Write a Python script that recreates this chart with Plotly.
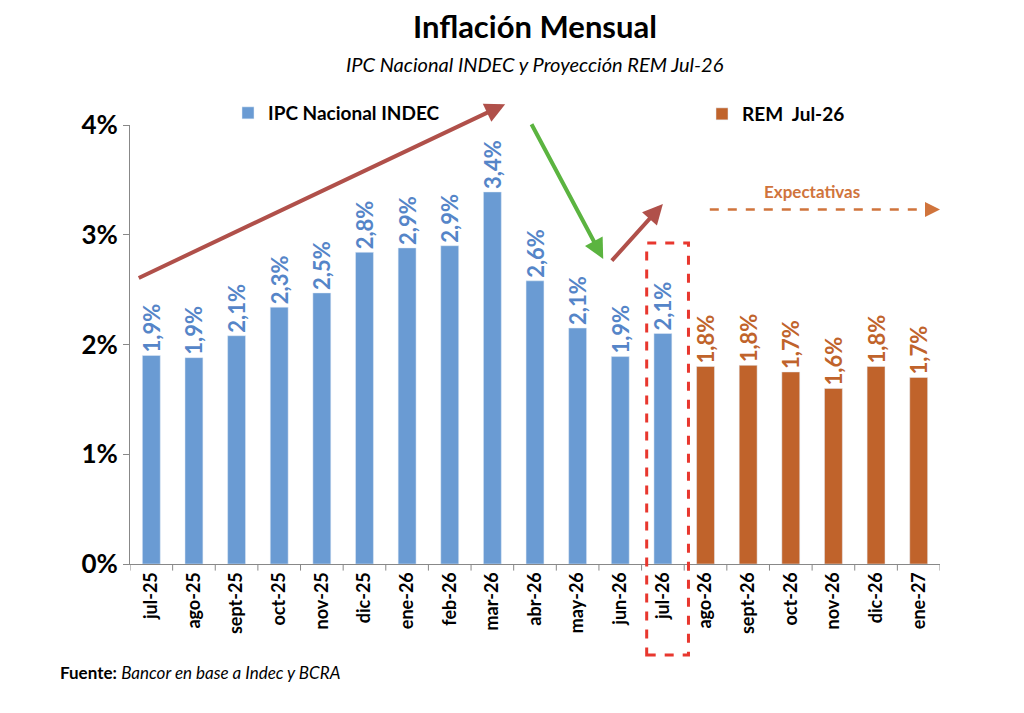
import plotly.graph_objects as go

categories = ["jul-25","ago-25","sept-25","oct-25","nov-25","dic-25","ene-26","feb-26","mar-26",
              "abr-26","may-26","jun-26","jul-26","ago-26","sept-26","oct-26","nov-26","dic-26","ene-27"]
ipc = [1.9,1.88,2.08,2.34,2.47,2.84,2.88,2.9,3.39,2.58,2.15,1.89,2.1] + [None]*6
rem = [None]*13 + [1.8,1.81,1.75,1.6,1.8,1.7]
ipc_labels = ["1,9%","1,9%","2,1%","2,3%","2,5%","2,8%","2,9%","2,9%","3,4%","2,6%","2,1%","1,9%","2,1%"] + [""]*6
rem_labels = [""]*13 + ["1,8%","1,8%","1,7%","1,6%","1,8%","1,7%"]

BLUE = "#6A9BD3"; BLUE_T = "#5585C8"; ORANGE = "#C0632B"
FONT = "Lato"
idx = list(range(len(categories)))

L, T, R, B = 122, 117, 92, 157
H = 713 - T - B
def py(px):
    return (713 - B - (px - 8)) / H
def pxx(px):
    return ((px - 8) - L) / (1024 - L - R)

fig = go.Figure()
fig.add_bar(x=idx, y=ipc, name="IPC Nacional INDEC", marker_color=BLUE, width=0.42,
            text=ipc_labels, textposition="outside", textangle=-90, cliponaxis=False, constraintext="none",
            textfont=dict(color=BLUE_T, size=22, family=FONT, weight="bold"), legend="legend")
fig.add_bar(x=idx, y=rem, name="REM  Jul-26", marker_color=ORANGE, width=0.42,
            text=rem_labels, textposition="outside", textangle=-90, cliponaxis=False, constraintext="none",
            textfont=dict(color=ORANGE, size=22, family=FONT, weight="bold"), legend="legend2")

def arrow(x0, y0, x1, y1, color, width=4):
    fig.add_annotation(x=x1, y=y1, ax=x0, ay=y0, xref="x", yref="y", axref="x", ayref="y",
                       text="", showarrow=True, arrowhead=2, arrowsize=1.0,
                       arrowwidth=width, arrowcolor=color)

arrow(-0.33, 2.6, 8.3, 4.19, "#B0504A")
arrow(8.9, 4.02, 10.6, 2.78, "#5BB440")
arrow(10.77, 2.75, 12.0, 3.28, "#B0504A")
fig.add_shape(type="line", xref="x", yref="y", x0=13.1, x1=18.3, y0=3.23, y1=3.23,
              line=dict(color="#D0743C", width=2.5, dash="dash"))
fig.add_annotation(x=18.5, y=3.23, ax=18.2, ay=3.23, xref="x", yref="y", axref="x", ayref="y",
                   text="", showarrow=True, arrowhead=2, arrowsize=1.2, arrowwidth=2.5, arrowcolor="#D0743C")
fig.add_annotation(x=15.5, y=3.39, xref="x", yref="y", text="<b>Expectativas</b>", showarrow=False,
                   font=dict(color="#D0743C", size=17, family=FONT))

fig.add_shape(type="rect", xref="x", yref="paper", x0=11.62, x1=12.6, y0=py(655), y1=py(243),
              line=dict(color="#E8372E", width=3, dash="dash"))

fig.add_annotation(x=0.5, y=py(26), xref="paper", yref="paper", xanchor="center", yanchor="middle",
                   text="<b>Inflación Mensual</b>", showarrow=False,
                   font=dict(size=31, family=FONT, color="black"))
fig.add_annotation(x=0.5, y=py(64), xref="paper", yref="paper", xanchor="center", yanchor="middle",
                   text="<i>IPC Nacional INDEC y Proyección REM Jul-26</i>", showarrow=False,
                   font=dict(size=20, family=FONT, color="black"))
fig.add_annotation(x=pxx(58), y=py(672), xref="paper", yref="paper", xanchor="left", yanchor="middle",
                   text="<b>Fuente:</b> <i>Bancor en base a Indec y BCRA</i>", showarrow=False,
                   font=dict(size=17, family=FONT, color="black"))

fig.update_layout(
    width=1024, height=713, paper_bgcolor="white", plot_bgcolor="white",
    margin=dict(l=L, r=R, t=T, b=B, autoexpand=False),
    barmode="overlay",
    xaxis=dict(tickmode="array", tickvals=idx, ticktext=categories, tickangle=-90,
               range=[-0.5, len(categories)-0.5], showline=True, linecolor="#888", ticks="",
               tickfont=dict(size=18, family=FONT, color="black", weight="bold"), showgrid=False),
    yaxis=dict(range=[0, 4], tickvals=[0,1,2,3,4], ticktext=["0%","1%","2%","3%","4%"],
               showline=True, linecolor="#888", ticks="outside", ticklen=6, tickcolor="#888",
               showgrid=False, zeroline=False,
               tickfont=dict(size=26, family=FONT, color="black", weight="bold")),
    legend=dict(x=pxx(228), y=py(113), xanchor="left", yanchor="middle", bgcolor="rgba(0,0,0,0)",
                font=dict(size=19, family=FONT, color="black", weight="bold")),
    legend2=dict(x=pxx(702), y=py(114), xanchor="left", yanchor="middle", bgcolor="rgba(0,0,0,0)",
                 font=dict(size=19, family=FONT, color="black", weight="bold")),
    showlegend=True,
)
for i in range(len(categories)+1):
    fig.add_shape(type="line", xref="x", yref="paper", x0=i-0.5, x1=i-0.5, y0=0, y1=-0.015,
                  line=dict(color="#888", width=1))
fig.write_html("out.html")
